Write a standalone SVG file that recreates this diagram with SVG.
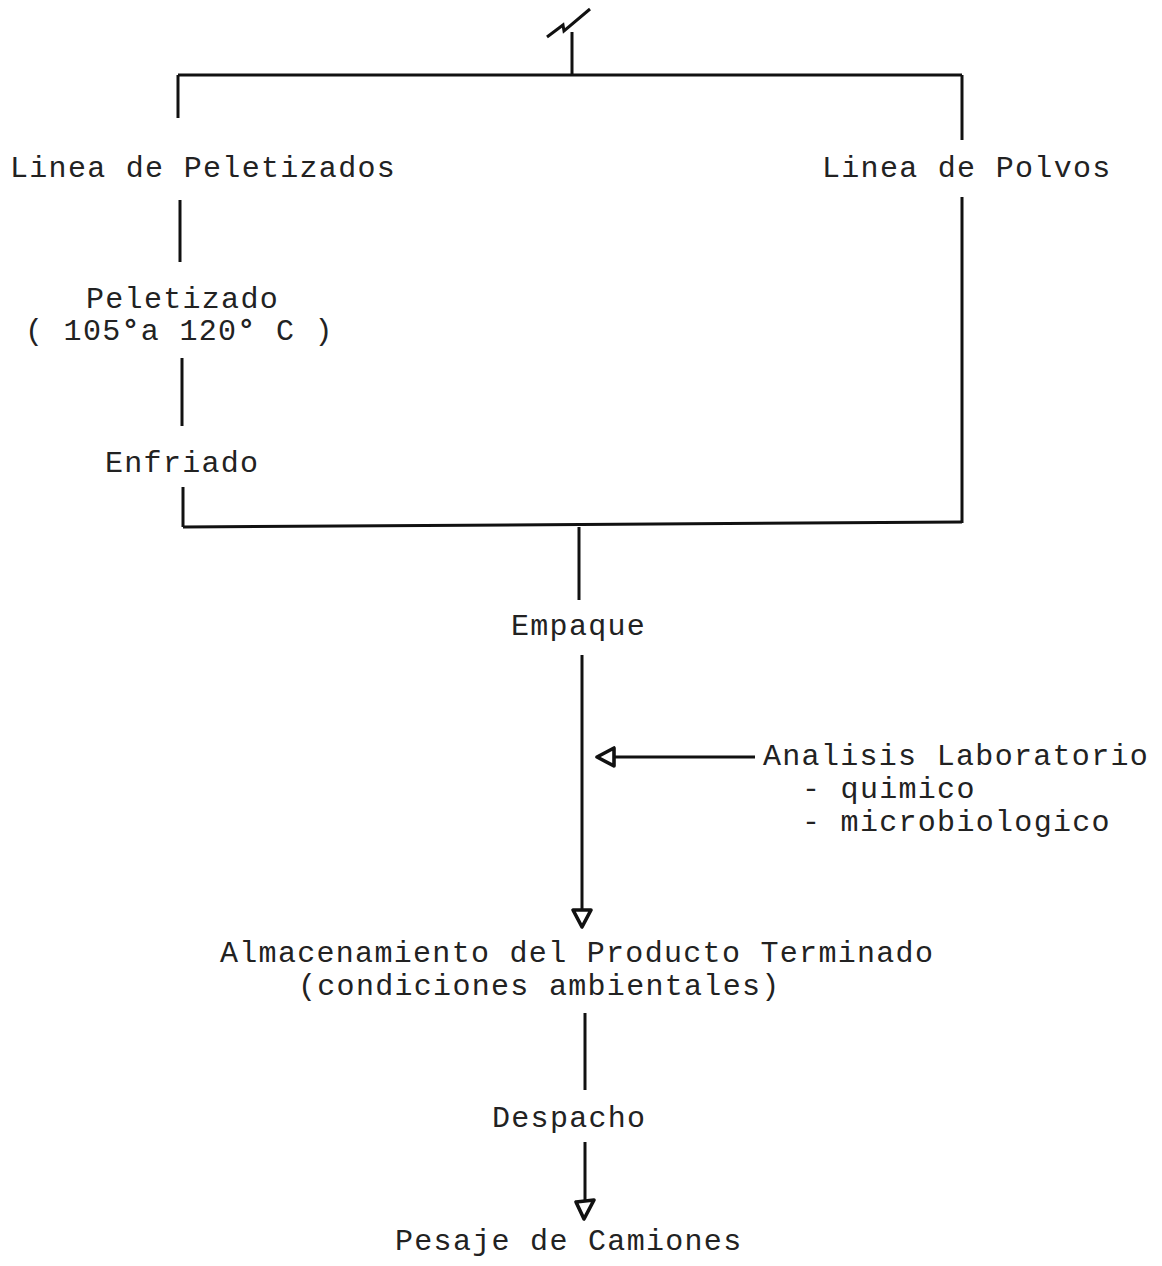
<svg xmlns="http://www.w3.org/2000/svg" width="1162" height="1266" viewBox="0 0 1162 1266">
<style>
text{font-family:"Liberation Mono","DejaVu Sans Mono",monospace;font-size:30px;letter-spacing:1.3px;fill:#222}
.ln{stroke:#111;stroke-width:3;fill:none}
.ah{stroke:#111;stroke-width:3.6;fill:#fff;stroke-linejoin:round}
.deg{font-weight:bold}
</style>
<rect width="1162" height="1266" fill="#fff"/>
<g id="connectors">
<path class="ln" d="M547,37 L563,25 L564,31 L590,9" stroke-width="3.6"/>
<path class="ln" d="M572,32 V75"/>
<path class="ln" d="M178,75 H962"/>
<path class="ln" d="M178,75 V118"/>
<path class="ln" d="M962,75 V140"/>
<path class="ln" d="M180,200 V262"/>
<path class="ln" d="M182,358 V426"/>
<path class="ln" d="M183,487 V527"/>
<path class="ln" d="M962,197 V523"/>
<path class="ln" d="M183,527 L962,522"/>
<path class="ln" d="M579,527 V600"/>
<path class="ln" d="M582,655 V909"/>
<path class="ln" d="M755,757 H614"/>
<path class="ah" d="M597,757 L614,748 L614,766 Z"/>
<path class="ah" d="M573,910 L591,910 L582,927 Z"/>
<path class="ln" d="M585,1013 V1090"/>
<path class="ln" d="M585,1142 V1201"/>
<path class="ah" d="M576,1202 L594,1200 L584,1219 Z"/>
</g>
<g id="linea-peletizados"><text x="10" y="177">Linea de Peletizados</text></g>
<g id="linea-polvos"><text x="822" y="177">Linea de Polvos</text></g>
<g id="peletizado"><text x="86" y="308">Peletizado</text><text x="25" y="340">( 105<tspan class="deg">°</tspan>a 120<tspan class="deg">°</tspan> C )</text></g>
<g id="enfriado"><text x="105" y="472">Enfriado</text></g>
<g id="empaque"><text x="511" y="635">Empaque</text></g>
<g id="analisis"><text x="763" y="765">Analisis Laboratorio</text><text x="802" y="798">- quimico</text><text x="802" y="831">- microbiologico</text></g>
<g id="almacenamiento"><text x="220" y="962">Almacenamiento del Producto Terminado</text><text x="298" y="995">(condiciones ambientales)</text></g>
<g id="despacho"><text x="492" y="1127">Despacho</text></g>
<g id="pesaje"><text x="395" y="1250">Pesaje de Camiones</text></g>
</svg>
